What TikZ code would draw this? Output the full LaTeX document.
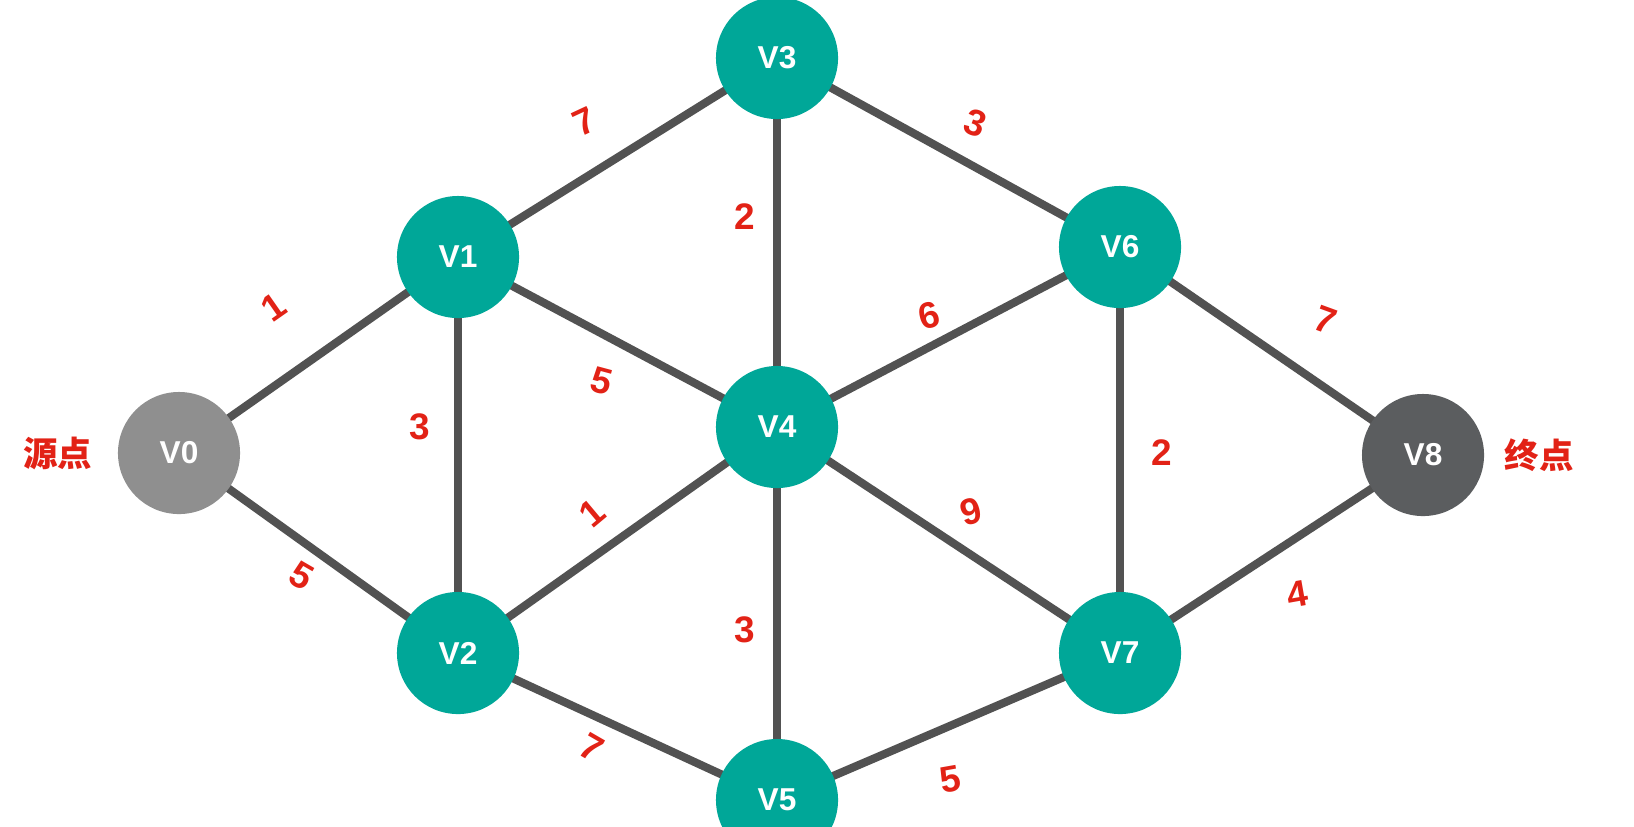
\documentclass[tikz,border=0pt]{standalone}
\usepackage{fontspec}
\usepackage{tikz}
\usetikzlibrary{
  positioning,
  backgrounds,
}
\newfontfamily\labelfont{Liberation Sans}
\newfontfamily\cjkfont{Noto Sans CJK SC}
\definecolor{vteal}{RGB}{0,167,152}
\definecolor{vsource}{RGB}{143,143,143}
\definecolor{vtarget}{RGB}{91,93,95}
\definecolor{edgecol}{RGB}{82,82,82}
\definecolor{weightred}{RGB}{226,34,22}
\tikzset{
  vnode/.style={
    circle, minimum size=1.22cm, inner sep=0pt,
    fill=vteal, text=white, font=\labelfont\fontsize{9}{10}\selectfont\bfseries
  },
  srcnode/.style={vnode, fill=vsource},
  dstnode/.style={vnode, fill=vtarget},
  graphedge/.style={draw=edgecol, line width=2.3pt},
  weight/.style={
    text=weightred, inner sep=0pt,
    font=\labelfont\fontsize{10.5}{12}\selectfont\bfseries
  },
  endlabel/.style={
    text=weightred, inner sep=0pt,
    font=\cjkfont\fontsize{9.8}{11}\selectfont\bfseries
  },
}

\begin{document}
\begin{tikzpicture}[x=0.01cm, y=-0.01cm]

  \clip (0,0) rectangle (1634,826);

  % ── Vertices ──
  \node[srcnode] (v0) at (179,453)  {V0};
  \node[vnode]   (v1) at (458,257)  {V1};
  \node[vnode]   (v2) at (458,653)  {V2};
  \node[vnode]   (v3) at (777,58)   {V3};
  \node[vnode]   (v4) at (777,427)  {V4};
  \node[vnode]   (v5) at (777,800)  {V5};
  \node[vnode]   (v6) at (1120,247) {V6};
  \node[vnode]   (v7) at (1120,653) {V7};
  \node[dstnode] (v8) at (1423,455) {V8};

  % ── Start / end ──
  \node[endlabel, left=7pt of v0]  (src) {源点};
  \node[endlabel, right=5.5pt of v8] (dst) {终点};

  % ── Edges ──
  \begin{scope}[on background layer]
    \fill[white] (0,0) rectangle (1634,826);
    \foreach \a/\b in {v0/v1, v0/v2, v1/v3, v1/v2, v1/v4, v2/v4, v2/v5,
                       v3/v4, v3/v6, v4/v5, v4/v6, v4/v7, v5/v7,
                       v6/v7, v6/v8, v7/v8}
      \draw[graphedge] (\a.center) -- (\b.center);
  \end{scope}

  % ── Weights ──
  \node[weight, rotate=35]  (w01) at (274,307)  {1};
  \node[weight, rotate=-30] (w02) at (302,576)  {5};
  \node[weight, rotate=25]  (w13) at (584,122)  {7};
  \node[weight]             (w12) at (420,427)  {3};
  \node[weight, rotate=-15] (w14) at (602,381)  {5};
  \node[weight, rotate=40]  (w24) at (592,513)  {1};
  \node[weight, rotate=-30] (w25) at (592,748)  {7};
  \node[weight]             (w34) at (745,217)  {2};
  \node[weight, rotate=-20] (w36) at (975,123)  {3};
  \node[weight]             (w45) at (745,630)  {3};
  \node[weight, rotate=15]  (w46) at (929,316)  {6};
  \node[weight, rotate=15]  (w47) at (971,512)  {9};
  \node[weight, rotate=10]  (w57) at (950,779)  {5};
  \node[weight]             (w67) at (1162,453) {2};
  \node[weight, rotate=-20] (w68) at (1325,320) {7};
  \node[weight, rotate=10]  (w78) at (1297,594) {4};

\end{tikzpicture}
\end{document}
